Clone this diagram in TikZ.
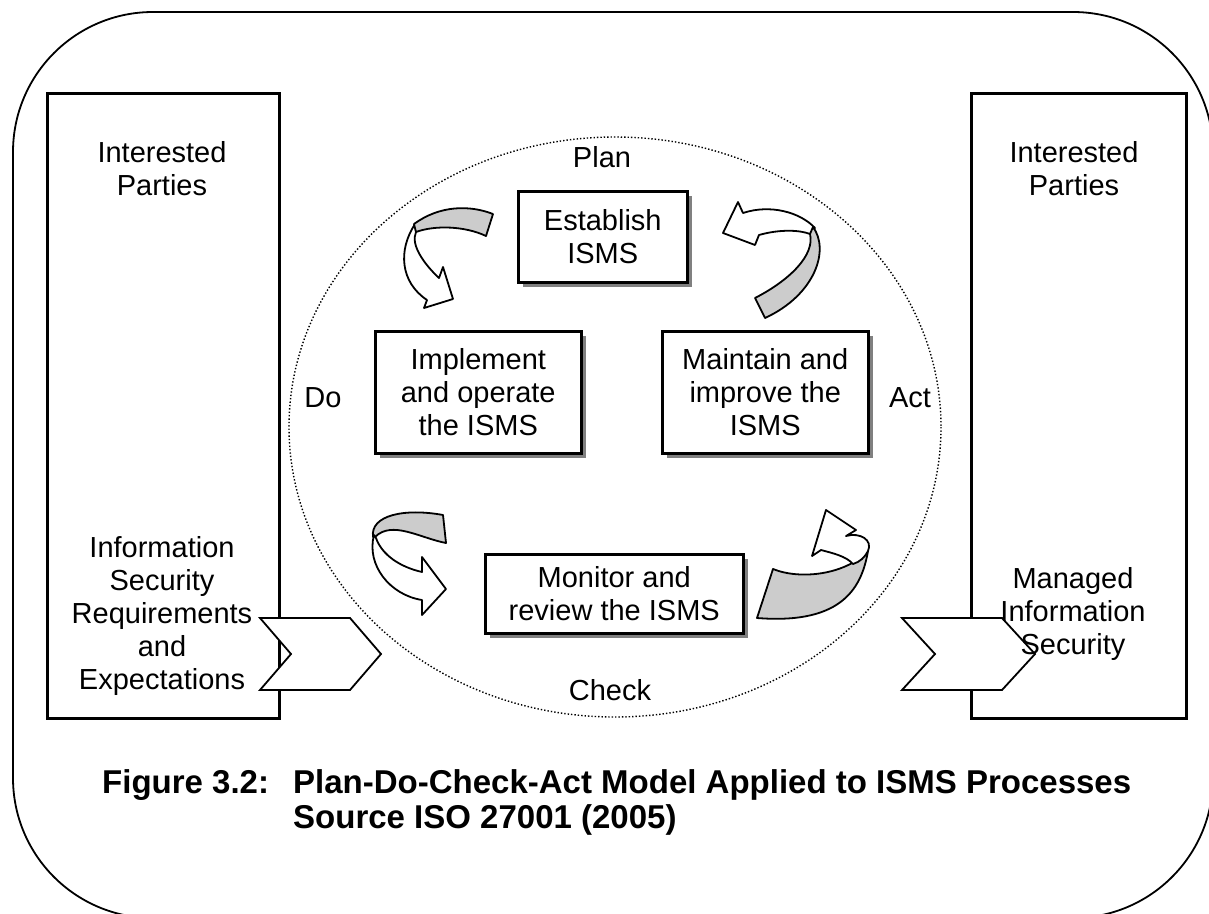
\documentclass[tikz,border=0pt]{standalone}
\usepackage{fontspec}
\setmainfont{Liberation Sans}
\begin{document}
\begin{tikzpicture}[x=1pt,y=-1pt,
  txt/.style={align=center, font=\fontsize{29}{33}\selectfont, inner sep=0pt},
  captxt/.style={align=left, font=\fontsize{33}{35}\selectfont\bfseries, inner sep=0pt, anchor=west},
  bigbox/.style={draw, line width=3pt, fill=white, anchor=north west, inner sep=0pt},
  stepbox/.style={draw, line width=2.5pt, fill=white, anchor=north west, inner sep=0pt},
  shade/.style={fill=black!50, draw=none, anchor=north west, inner sep=0pt},
  chev/.style={draw, line width=1.8pt, fill=white, line join=miter},
  front/.style={draw, line width=1.8pt, fill=white, line join=round},
  back/.style={draw, line width=1.8pt, fill=black!20, line join=round},
]
\useasboundingbox (0,0) rectangle (1209,913);

% outer frame, partly cut by the page edge
\begin{scope}
  \clip (0,0) rectangle (1209,913);
  \draw[line width=1.8pt, rounded corners=140pt] (13,12) rectangle (1213,918);
\end{scope}

% side columns
\node (lbox) [bigbox, minimum width=232pt, minimum height=625pt] at (46,92) {};
\node (rbox) [bigbox, minimum width=215pt, minimum height=625pt] at (970,92) {};

% dotted cycle outline
\draw[dotted, line width=1.4pt] (615,427) ellipse [x radius=326, y radius=290];

% input / output chevrons
\draw[chev] (260,618) -- (350,618) -- (381,654) -- (350,690) -- (260,690) -- (291,654) -- cycle;
\draw[chev] (902,618) -- (1002,618) -- (1035,654) -- (1002,690) -- (902,690) -- (935,654) -- cycle;

% column texts
\node[txt] at (162,169) {Interested\\Parties};
\node[txt] at (162,616) {Information\\Security\\Requirements\\and\\Expectations};
\node[txt] at (1074,169) {Interested\\Parties};
\node[txt] at (1073,614) {Managed\\Information\\Security};

% process boxes with shadows
\node [shade, minimum width=169pt, minimum height=91pt] at (523,196) {};
\node (plan) [stepbox, minimum width=169pt, minimum height=91pt] at (517,190) {};
\node [shade, minimum width=206pt, minimum height=122pt] at (380,336) {};
\node (do) [stepbox, minimum width=206pt, minimum height=122pt] at (374,330) {};
\node [shade, minimum width=206pt, minimum height=122pt] at (667,336) {};
\node (act) [stepbox, minimum width=206pt, minimum height=122pt] at (661,330) {};
\node [shade, minimum width=258pt, minimum height=79pt] at (490,559) {};
\node (check) [stepbox, minimum width=258pt, minimum height=79pt] at (484,553) {};

% box texts
\node[txt] at (plan.center) {Establish\\ISMS};
\node[txt] at (do.center) {Implement\\and operate\\the ISMS};
\node[txt] at (act.center) {Maintain and\\improve the\\ISMS};
\node[txt] at (check.center) {Monitor and\\review the ISMS};

% phase labels
\node[txt] (lplan) at (602,157) {Plan};
\node[txt] (ldo) at (323,398) {Do};
\node[txt] (lact) at (910,398) {Act};
\node[txt] (lcheck) at (610,690) {Check};

% curved arrow: Plan -> Do
\draw[front] (415,224) .. controls (398,250) and (400,282) .. (427,300) -- (424,308) -- (453,299)
  -- (443,267) -- (439,278) .. controls (425,265) and (410,245) .. (416,232) -- cycle;
\draw[back] (414,224) .. controls (440,205) and (470,205) .. (493,214) -- (486,236)
  .. controls (465,226) and (435,225) .. (416,232) -- cycle;

% curved arrow: Act -> Plan
\draw[front] (815,228) .. controls (800,212) and (770,204) .. (743,213) -- (738,202) -- (723,233)
  -- (755,245) -- (759,235) .. controls (780,229) and (800,230) .. (810,234) -- cycle;
\draw[back] (813,227) .. controls (830,250) and (815,295) .. (765,318) -- (755,298)
  .. controls (790,280) and (815,255) .. (810,234) -- cycle;

% curved arrow: Do -> Check
\draw[back] (373,537) .. controls (370,515) and (405,508) .. (443,515) -- (446,543)
  .. controls (420,538) and (392,520) .. (375,537) -- cycle;
\draw[front] (374,535) .. controls (366,565) and (390,595) .. (422,600) -- (422,615) -- (446,589)
  -- (422,557) -- (422,572) .. controls (400,567) and (382,555) .. (376,538) -- cycle;

% curved arrow: Check -> Act
\draw[back] (773,569) .. controls (800,580) and (845,575) .. (868,551)
  .. controls (862,585) and (845,625) .. (757,618) -- cycle;
\draw[front] (868,551) .. controls (873,540) and (860,532) .. (846,536) -- (856,530) -- (826,510)
  -- (812,556) -- (821,550) .. controls (832,553) and (846,556) .. (853,564)
  .. controls (860,562) and (865,557) .. (868,551) -- cycle;

% caption
\node[captxt] (fig) at (102,785) {Figure 3.2:};
\node[captxt] (cap) at (293,802) {Plan-Do-Check-Act Model Applied to ISMS Processes\\Source ISO 27001 (2005)};
\end{tikzpicture}
\end{document}
